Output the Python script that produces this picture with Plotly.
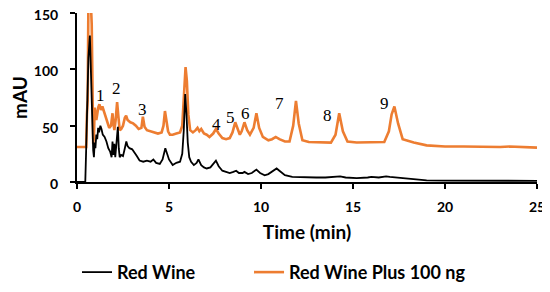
import plotly.graph_objects as go

# Red Wine (black trace)
wine_t = [0, 0.45, 0.5, 0.55, 0.62, 0.7, 0.76, 0.82, 0.88, 0.92, 0.96, 1.0, 1.05, 1.1, 1.15, 1.2,
          1.27, 1.33, 1.4, 1.5, 1.6, 1.7, 1.8, 1.88, 1.93, 1.98, 2.03, 2.08, 2.15, 2.22, 2.27, 2.32,
          2.4, 2.5, 2.6, 2.68, 2.75, 2.85, 3.0, 3.1, 3.25, 3.4, 3.6, 3.8, 4.0, 4.15, 4.3, 4.5, 4.65,
          4.8, 4.9, 5.0, 5.2, 5.4, 5.6, 5.72, 5.8, 5.88, 5.95, 6.02, 6.1, 6.2, 6.35, 6.5, 6.6, 6.75,
          6.9, 7.05, 7.25, 7.4, 7.55, 7.7, 7.9, 8.1, 8.3, 8.5, 8.65, 8.8, 9.0, 9.1, 9.3, 9.5, 9.75,
          9.95, 10.2, 10.4, 10.6, 10.85, 11.0, 11.3, 11.7, 12.3, 13.0, 13.5, 14.0, 14.3, 14.6, 15.2,
          15.8, 16.0, 16.4, 16.8, 17.0, 17.3, 17.8, 18.3, 19.0, 20.0, 21.0, 22.0, 23.0, 24.0, 25.0]
wine_mau = [0, 0, 30, 70, 110, 130, 95, 45, 28, 22, 35, 30, 42, 38, 48, 44,
            50, 47, 42, 40, 36, 30, 27, 22, 36, 24, 34, 22, 38, 49, 30, 22,
            24, 23, 30, 36, 32, 30, 29, 27, 23, 19, 18, 19, 18, 20, 17, 16, 20,
            30, 25, 20, 15, 17, 18, 25, 45, 78, 60, 35, 22, 18, 15, 17, 20, 15,
            13, 12, 13, 16, 19, 14, 10, 9, 8, 9, 10, 8, 8, 9, 7, 8, 11,
            8, 6, 7, 9, 12, 10, 6, 4.5, 4, 4, 4, 4.5, 5, 4, 3.5,
            4, 4.5, 4, 5, 4.5, 4, 3.5, 3, 1.5, 1.3, 1.2, 1.2, 1, 1.2, 1]

# Red Wine Plus 100 ng (orange trace)
spiked_t = [0, 0.5, 0.54, 0.58, 0.62, 0.68, 0.75, 0.8, 0.84, 0.88, 0.92, 0.96, 1.0, 1.05, 1.1,
            1.15, 1.22, 1.3, 1.38, 1.45, 1.55, 1.65, 1.75, 1.85, 1.93, 1.98, 2.03, 2.1, 2.18,
            2.25, 2.32, 2.4, 2.5, 2.6, 2.67, 2.75, 2.9, 3.05, 3.2, 3.35, 3.5, 3.58, 3.67, 3.8,
            4.0, 4.2, 4.4, 4.6, 4.7, 4.78, 4.86, 4.95, 5.05, 5.2, 5.4, 5.6, 5.72, 5.8, 5.9, 5.97,
            6.05, 6.15, 6.3, 6.45, 6.55, 6.65, 6.75, 6.9, 7.05, 7.2, 7.4, 7.55, 7.7, 7.9, 8.1,
            8.3, 8.45, 8.6, 8.75, 8.85, 8.95, 9.1, 9.25, 9.4, 9.6, 9.75, 9.9, 10.1, 10.4, 10.6,
            10.8, 11.0, 11.3, 11.55, 11.75, 11.9, 12.05, 12.25, 12.6, 13.2, 13.8, 14.05, 14.25,
            14.45, 14.7, 15.2, 16.0, 16.7, 16.95, 17.1, 17.25, 17.45, 17.7, 18.3, 19.0, 20.0,
            21.0, 22.0, 23.0, 23.5, 24.0, 25.0]
spiked_mau = [31, 31, 60, 72, 160, 160, 160, 140, 60, 34, 40, 66, 62, 55, 60,
              66, 69, 64, 67, 63, 58, 52, 48, 50, 61, 52, 46, 55, 71,
              58, 46, 47, 50, 57, 59, 55, 53, 52, 50, 47, 48, 58, 49, 46,
              45, 44, 43, 44, 50, 63, 55, 45, 42, 42, 43, 44, 50, 70, 102, 90,
              60, 46, 44, 46, 48, 45, 47, 43, 42, 40, 43, 47, 43, 39, 38,
              39, 44, 53, 47, 42, 45, 53, 46, 42, 48, 61, 48, 40, 37, 38,
              40, 38, 36, 36, 50, 72, 52, 37, 35.5, 35, 35, 42, 61,
              45, 36, 35, 35, 35.5, 45, 60, 67, 52, 38, 35, 32.5, 31.5,
              31.5, 31, 31, 31.5, 31, 30.5]

# peak labels
peak_labels = ["1", "2", "3", "4", "5", "6", "7", "8", "9"]
label_t = [1.25, 2.15, 3.58, 7.6, 8.35, 9.17, 11.0, 13.6, 16.7]
label_mau = [77, 83, 64, 51, 57.5, 61, 70, 59, 70]

ORANGE = "#ED7D31"

fig = go.Figure()
fig.add_trace(go.Scatter(x=spiked_t, y=spiked_mau, mode="lines", name="Red Wine Plus 100 ng",
                         line=dict(color=ORANGE, width=2.6), legend="legend2"))
fig.add_trace(go.Scatter(x=wine_t, y=wine_mau, mode="lines", name="Red Wine",
                         line=dict(color="black", width=1.8), legend="legend"))

for lab, t, v in zip(peak_labels, label_t, label_mau):
    fig.add_annotation(x=t, y=v, text=lab, showarrow=False,
                       font=dict(family="Liberation Serif", size=17, color="black"))

axis_font = dict(family="Lato", size=14, color="black", weight="bold")
title_font = dict(family="Lato", size=19, color="black", weight="bold")
fig.update_xaxes(range=[0, 25], dtick=5, showgrid=False, zeroline=False, automargin=False,
                 showline=True, linecolor="black", linewidth=2,
                 ticks="outside", ticklen=5, tickcolor="black", tickwidth=2,
                 tickfont=axis_font, ticklabeloverflow="allow", ticklabelstandoff=6,
                 title=dict(text="Time (min)", font=title_font, standoff=12))
fig.update_yaxes(range=[0, 150], dtick=50, showgrid=False, zeroline=False, automargin=False,
                 showline=True, linecolor="black", linewidth=2,
                 ticks="outside", ticklen=5, tickcolor="black", tickwidth=2,
                 tickfont=axis_font, ticklabeloverflow="allow", ticklabelstandoff=9,
                 ticklabelshift=2,
                 title=dict(text="mAU", font=title_font, standoff=7))

# page body has an 8px margin, so the figure is sized/offset to compensate
legend_font = dict(family="Lato", size=18, color="black", weight="bold")
fig.update_layout(
    width=542, height=284,
    margin=dict(l=69, r=13, t=5, b=110, autoexpand=False),
    plot_bgcolor="white", paper_bgcolor="white",
    showlegend=True,
    legend=dict(orientation="h", x=0.0, xanchor="left", y=-0.535, yanchor="middle",
                font=legend_font, bgcolor="rgba(0,0,0,0)"),
    legend2=dict(orientation="h", x=0.374, xanchor="left", y=-0.535, yanchor="middle",
                 font=legend_font, bgcolor="rgba(0,0,0,0)"),
)

fig.write_html("out.html")
